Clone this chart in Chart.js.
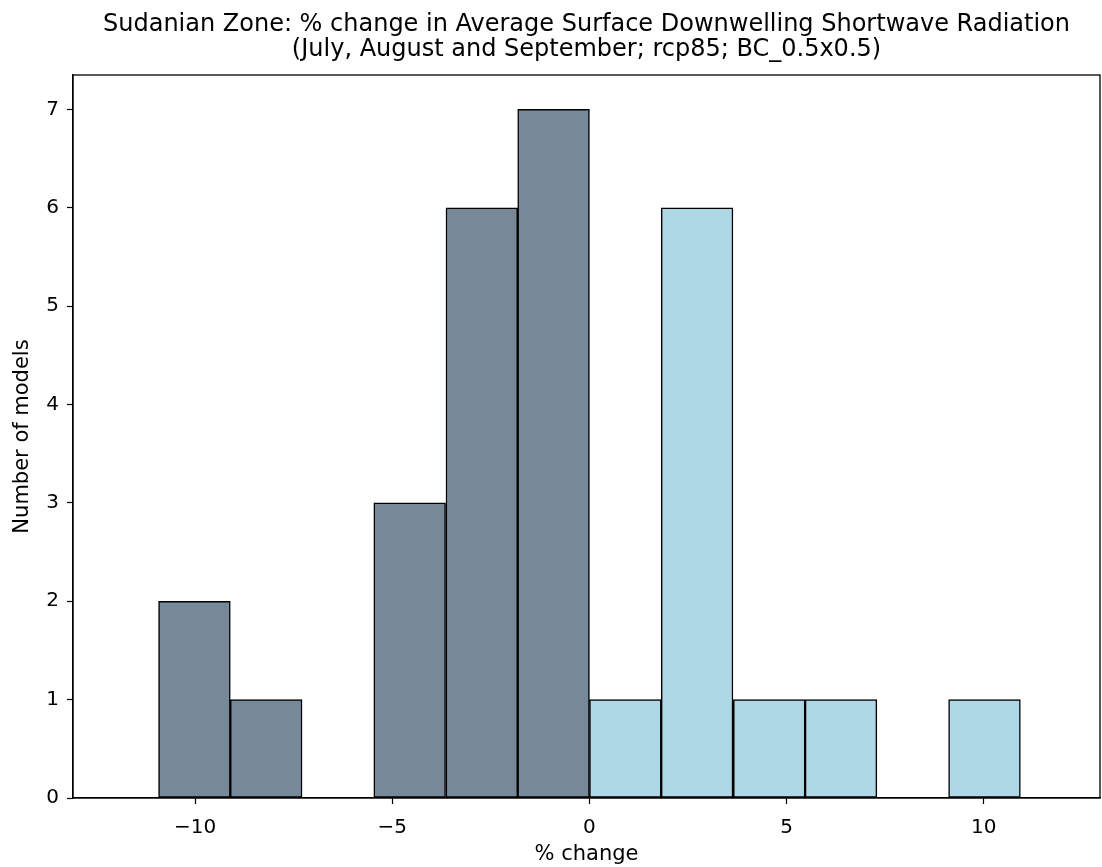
<!DOCTYPE html>
<html>
<head>
<meta charset="utf-8">
<script src="https://cdn.jsdelivr.net/npm/chart.js@4"></script>
<style>
  html, body { margin: 0; padding: 0; background: #fff; }
  #wrap { width: 1102px; height: 867px; }
</style>
</head>
<body>
<div id="wrap"><canvas id="chartContainer"></canvas></div>
<script>
// histogram bins (% change) and model counts
const binCenters = [-10.02, -8.2, -6.38, -4.56, -2.73, -0.91, 0.91, 2.73, 4.56, 6.38, 8.2, 10.02];
const modelCounts = [2, 1, 0, 3, 6, 7, 1, 6, 1, 1, 0, 1];
const xTicks = [-10, -5, 0, 5, 10];
const yTicks = [0, 1, 2, 3, 4, 5, 6, 7];
const titleLines = [
  'Sudanian Zone: % change in Average Surface Downwelling Shortwave Radiation',
  '(July, August and September; rcp85; BC_0.5x0.5)'
];

const font = "'DejaVu Sans', sans-serif";

// matplotlib centres the title over the axes, not the figure; also draw top/right spines
const frame = {
  id: 'frame',
  afterDraw(chart) {
    const { ctx, chartArea: a } = chart;
    ctx.save();
    ctx.strokeStyle = '#000';
    ctx.lineWidth = 1.3;
    ctx.strokeRect(a.left, a.top, a.right - a.left, a.bottom - a.top);
    ctx.fillStyle = '#000';
    ctx.font = '24px ' + font;
    ctx.textAlign = 'center';
    ctx.textBaseline = 'middle';
    const cx = (a.left + a.right) / 2;
    titleLines.forEach((t, i) => ctx.fillText(t, cx, 25 + i * 25));
    ctx.restore();
  }
};

document.addEventListener('DOMContentLoaded', function() {
  const ctx = document.getElementById('chartContainer').getContext('2d');
  new Chart(ctx, {
    type: 'bar',
    data: {
      datasets: [{
        data: binCenters.map((x, i) => ({ x: x, y: modelCounts[i] })),
        backgroundColor: binCenters.map(x => x < 0 ? '#778899' : '#add8e6'),
        borderColor: '#000',
        borderWidth: 1.5,
        borderSkipped: false,
        barPercentage: 1,
        categoryPercentage: 1
      }]
    },
    options: {
      responsive: true,
      maintainAspectRatio: false,
      animation: false,
      layout: { padding: { top: 75, right: 2, left: 0, bottom: 0 } },
      plugins: {
        legend: { display: false },
        tooltip: { enabled: false },
        title: { display: false }
      },
      scales: {
        x: {
          type: 'linear',
          min: -13.1,
          max: 12.95,
          offset: false,
          afterBuildTicks: s => { s.ticks = xTicks.map(v => ({ value: v })); },
          afterFit: s => { s.height = 69; },
          grid: { offset: false, drawOnChartArea: false, tickLength: 6, tickColor: '#000', tickWidth: 1.2 },
          border: { color: '#000', width: 1.3 },
          ticks: {
            color: '#000',
            font: { family: font, size: 20 },
            padding: 12,
            maxRotation: 0,
            callback: v => String(v).replace('-', '\u2212')
          },
          title: {
            display: true,
            text: '% change',
            color: '#000',
            font: { family: font, size: 21 },
            padding: { top: 2, bottom: 0 }
          }
        },
        y: {
          min: 0,
          max: 7.35,
          afterBuildTicks: s => { s.ticks = yTicks.map(v => ({ value: v })); },
          afterFit: s => { s.width = 73; },
          grid: { offset: false, drawOnChartArea: false, tickLength: 6, tickColor: '#000', tickWidth: 1.2 },
          border: { color: '#000', width: 1.3 },
          ticks: {
            color: '#000',
            font: { family: font, size: 20 },
            padding: 8
          },
          title: {
            display: true,
            text: 'Number of models',
            color: '#000',
            font: { family: font, size: 21 },
            padding: { top: 10, bottom: 0 }
          }
        }
      }
    },
    plugins: [frame]
  });
});
</script>
</body>
</html>
